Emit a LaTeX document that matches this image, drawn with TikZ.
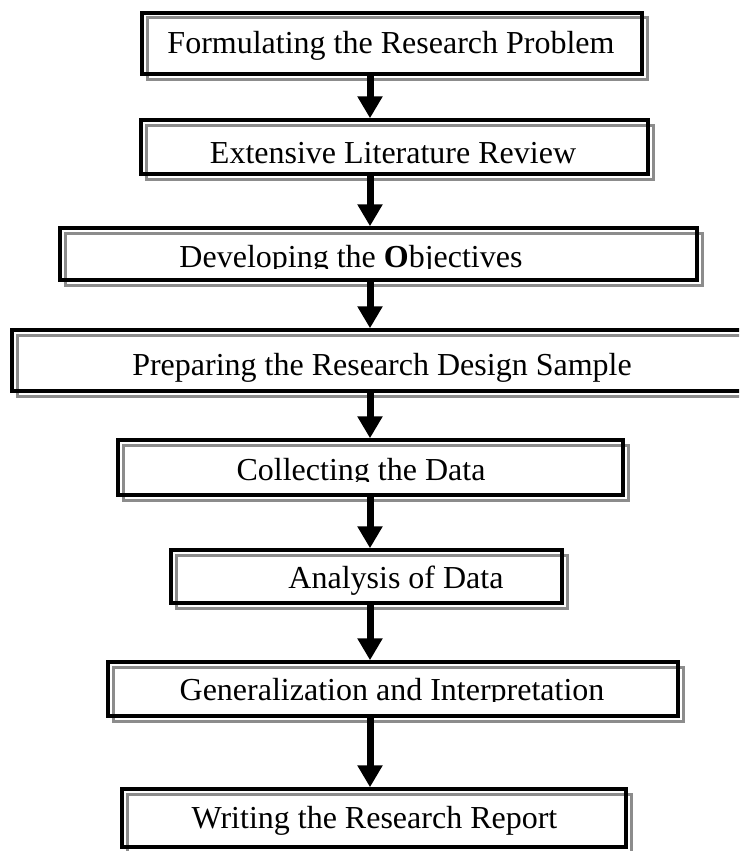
\documentclass[tikz,border=0pt]{standalone}
\usepackage{fontspec}
\setmainfont{Liberation Serif}
\usetikzlibrary{arrows.meta}
\definecolor{shadowgray}{RGB}{140,140,140}
\newcommand\stepfont{\fontsize{32}{38}\selectfont}
\tikzset{
  stepbox/.style={rectangle, draw=black, line width=3.5pt, inner sep=0pt,
    preaction={draw=shadowgray, line width=3pt,
      transform canvas={xshift=5pt, yshift=-5pt}}},
  steptext/.style={anchor=base, inner sep=0pt, font=\stepfont},
  flowarrow/.style={draw=black, line width=7pt,
    -{Triangle[width=24pt, length=22pt]}}
}
\begin{document}
\begin{tikzpicture}[x=1pt, y=-1pt]
  \useasboundingbox (0,0) rectangle (739,851);
  \clip (0,0) rectangle (739,851);

  % frames of the eight steps
  \node[stepbox, minimum width=500pt, minimum height=61pt] (b1) at (392,43.5) {};
  \node[stepbox, minimum width=507pt, minimum height=54pt] (b2) at (394.5,147) {};
  \node[stepbox, minimum width=637pt, minimum height=52pt] (b3) at (378.5,254) {};
  \node[stepbox, minimum width=758pt, minimum height=61pt] (b4) at (391,360.5) {};
  \node[stepbox, minimum width=505pt, minimum height=55pt] (b5) at (370.5,467.5) {};
  \node[stepbox, minimum width=391pt, minimum height=53pt] (b6) at (366.5,576.5) {};
  \node[stepbox, minimum width=570pt, minimum height=54pt] (b7) at (393,689) {};
  \node[stepbox, minimum width=504pt, minimum height=58pt] (b8) at (374,818) {};

  % step captions (three of them are cut just below the baseline)
  \node[steptext] (t1) at (391,53) {Formulating the Research Problem};
  \node[steptext] (t2) at (393,163) {Extensive Literature Review};
  \begin{scope}
    \clip (60,228) rectangle (697,268.5);
    \node[steptext] (t3) at (351,267) {Developing the \textbf{O}bjectives};
  \end{scope}
  \node[steptext] (t4) at (382,375) {Preparing the Research Design Sample};
  \begin{scope}
    \clip (118,440) rectangle (623,481.5);
    \node[steptext] (t5) at (361,480) {Collecting the Data};
  \end{scope}
  \node[steptext] (t6) at (396,588) {Analysis of Data};
  \begin{scope}
    \clip (108,662) rectangle (678,701.5);
    \node[steptext] (t7) at (392,700) {Generalization and Interpretation};
  \end{scope}
  \node[steptext] (t8) at (374.5,828) {Writing the Research Report};

  % vertical flow line
  \coordinate (axis) at (370,0);
  \foreach \a/\b in {b1/b2, b2/b3, b3/b4, b4/b5, b5/b6, b6/b7, b7/b8}
    \draw[flowarrow] (\a.south -| axis) -- (\b.north -| axis);
\end{tikzpicture}
\end{document}
